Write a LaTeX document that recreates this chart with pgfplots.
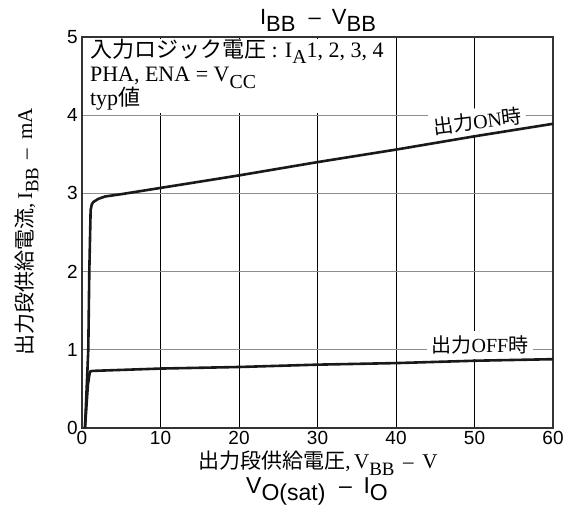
\documentclass[border=0pt]{standalone}
\usepackage{fontspec}
\setmainfont{Liberation Serif}
\setsansfont{Liberation Sans}
\newfontfamily\jp{Noto Sans CJK JP}
\usepackage{pgfplots}
\pgfplotsset{compat=1.18}
\newcommand\sub[1]{\raisebox{-0.3em}{\scalebox{0.9}{#1}}}
\newcommand\ssub[1]{\raisebox{-0.28em}{#1}}
\begin{document}
\begin{tikzpicture}[x=1bp,y=1bp]
\path[use as bounding box] (0,0) rectangle (571,506);
\begin{axis}[at={(82bp,78bp)}, anchor=south west, width=471bp, height=391bp, scale only axis,
  xmin=0, xmax=60, ymin=0, ymax=5,
  xtick={0,10,...,60}, ytick={0,1,...,5},
  major tick length=0pt,
  axis line style={draw=black!80, line width=1.3bp},
  grid=major,
  x grid style={black, line width=0.6bp},
  y grid style={black!45, line width=1bp},
  tick label style={font=\fontsize{19bp}{22bp}\sffamily},
  xticklabel style={inner sep=3bp},
  yticklabel style={inner sep=4bp},
  /pgf/number format/assume math mode=true,
  clip=false]
\fill[white] (axis cs:0.2,4.03) rectangle (axis cs:37,4.97);
\node[anchor=base west, font=\fontsize{22bp}{24bp}\selectfont, inner sep=0pt] at (axis cs:1.0,4.744) {{\jp 入力ロジック電圧} : I\sub{A}1, 2, 3, 4};
\node[anchor=base west, font=\fontsize{22bp}{24bp}\selectfont, inner sep=0pt] at (axis cs:1.0,4.425) {PHA, ENA = V\sub{CC}};
\node[anchor=base west, font=\fontsize{22bp}{24bp}\selectfont, inner sep=0pt] at (axis cs:1.0,4.118) {typ{\jp 値}};
\node[fill=white, inner sep=4bp, rotate=7, font=\fontsize{20bp}{22bp}\selectfont] at (axis cs:50.4,3.92) {{\jp 出力}ON{\jp 時}};
\node[fill=white, inner sep=5bp, font=\fontsize{20bp}{22bp}\selectfont] at (axis cs:50.7,1.06) {{\jp 出力}OFF{\jp 時}};
\addplot[black!90, line width=2.6bp, line join=round] coordinates {
 (0.38,0) (0.8,1.0) (0.93,2.0) (1.1,2.79) (1.25,2.86) (1.44,2.89) (2.08,2.93) (2.93,2.96) (5,2.99) (10,3.07) (20,3.23) (30,3.40) (40,3.56) (50,3.73) (60,3.89)};
\addplot[black!90, line width=2.6bp, line join=round] coordinates {
 (0.38,0) (0.75,0.55) (1.0,0.72) (1.3,0.73) (10,0.76) (20,0.78) (30,0.81) (40,0.83) (50,0.86) (60,0.88)};
\end{axis}
\node[anchor=base, font=\fontsize{22bp}{24bp}\sffamily] at (318,481) {I\ssub{BB}\hspace{0.6em}--\hspace{0.5em}V\ssub{BB}};
\node[anchor=base, font=\fontsize{21bp}{22bp}\selectfont] at (318,37) {{\jp 出力段供給電圧},\,V\sub{BB} \,--\, V};
\node[anchor=base, rotate=90, font=\fontsize{21bp}{22bp}\selectfont] at (32,274) {{\jp 出力段供給電流},\,I\sub{BB} \,--\, mA};
\node[anchor=base, font=\fontsize{23bp}{26bp}\sffamily] at (317,12) {V\ssub{O(sat)}\hspace{0.6em}--\hspace{0.5em}I\ssub{O}};
\end{tikzpicture}
\end{document}
